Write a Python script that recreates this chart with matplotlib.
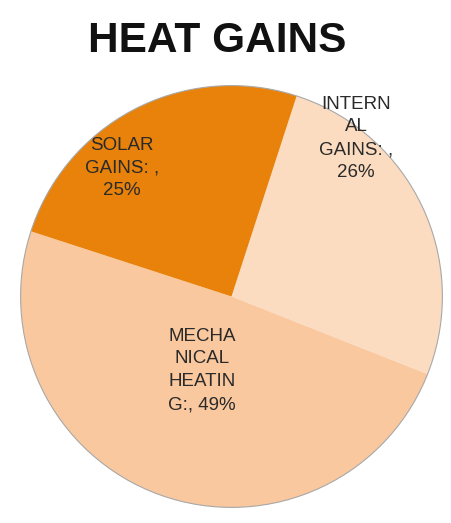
import matplotlib.pyplot as plt

# data
labels = ["INTERN\nAL\nGAINS: ,\n26%", "MECHA\nNICAL\nHEATIN\nG:, 49%", "SOLAR\nGAINS: ,\n25%"]
shares = [26, 49, 25]
colors = ["#FCDCC0", "#FAC89E", "#E8820A"]
label_pos = [(0.59, 0.75), (-0.14, -0.35), (-0.52, 0.61)]

fig = plt.figure(figsize=(4.52, 5.23), dpi=100)
# pie centred at about (231, 297) px, radius ~213 px
ax = fig.add_axes([(231.5 - 213) / 452, (523 - 296.5 - 213) / 523, 426 / 452, 426 / 523])

wedges, texts = ax.pie(shares, labels=labels, colors=colors, startangle=72,
                       counterclock=False, radius=1, labeldistance=0.6,
                       wedgeprops={'linewidth': 0},
                       textprops={'family': 'Liberation Sans', 'fontsize': 13.5,
                                  'color': '#2a2a2a', 'linespacing': 1.45})
for t, (x, y) in zip(texts, label_pos):
    t.set_position((x, y))
    t.set_ha('center')
    t.set_va('center')
    t.set_multialignment('center')

# faint grey rim round the pie
ax.add_patch(plt.Circle((0, 0), 1, fill=False, ec='#a8a8a8', lw=0.8))

ax.set_xlim(-1.01, 1.01)
ax.set_ylim(-1.01, 1.01)
ax.set_aspect('equal')

fig.text(0.48, 1 - 52 / 523, "HEAT GAINS", ha='center', va='baseline',
         family='Liberation Sans', fontweight='bold', fontsize=30.5, color='#111111')

fig.savefig('out.png', dpi=100)
